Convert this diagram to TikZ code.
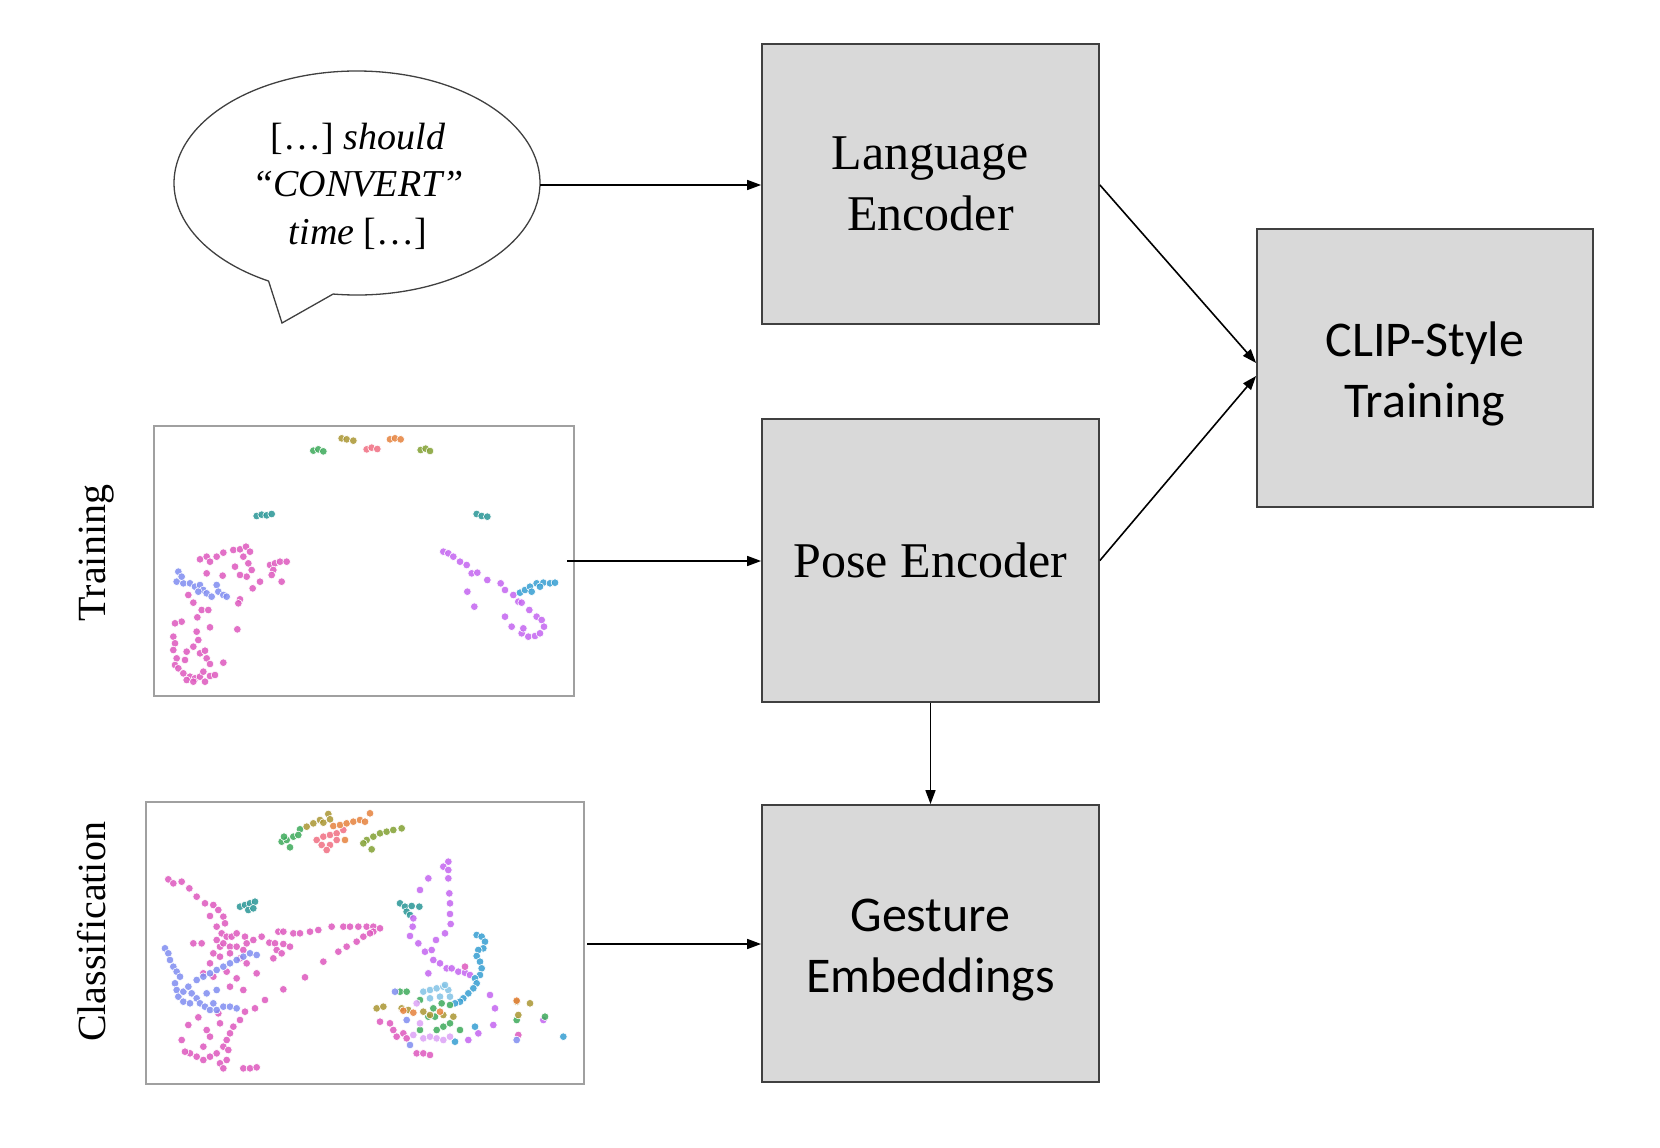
\documentclass[tikz,border=0pt]{standalone}
\usepackage{fontspec}
\setmainfont{Liberation Serif}
\newfontfamily\calibrifont{Carlito}
\usetikzlibrary{arrows.meta}
\definecolor{boxgray}{RGB}{217,217,217}
\definecolor{boxline}{RGB}{64,64,64}
\definecolor{framegray}{RGB}{160,160,160}
\definecolor{cpink}{RGB}{222,88,190}
\definecolor{cviolet}{RGB}{196,100,240}
\definecolor{clav}{RGB}{128,140,240}
\definecolor{csky}{RGB}{54,158,210}
\definecolor{cltsky}{RGB}{130,195,230}
\definecolor{cteal}{RGB}{40,150,150}
\definecolor{cgreen}{RGB}{60,170,90}
\definecolor{colive}{RGB}{170,150,50}
\definecolor{cred}{RGB}{240,110,130}
\definecolor{corange}{RGB}{230,130,60}
\definecolor{colgreen}{RGB}{130,160,50}
\newcommand\ptset[2]{\foreach \px/\py in {#2} {\filldraw[fill=#1, draw=white, line width=0.6, fill opacity=0.85] (\px,\py) circle[radius=11.5];}}
\begin{document}
\begin{tikzpicture}[x=1pt,y=-1pt,
  block/.style={draw=boxline, fill=boxgray, line width=1.8, minimum width=337, minimum height=280, align=center, inner sep=0},
  serifbig/.style={font=\fontsize{50}{61}\selectfont},
  calbig/.style={font=\calibrifont\fontsize{50}{61}\selectfont},
  plotframe/.style={draw=framegray, line width=2, inner sep=0},
  conn/.style={draw=black, line width=1.6, -{Triangle[length=14pt, width=10pt]}},
  bubble/.style={draw=black!75, line width=1.3, fill=white}]
\fill[white] (0,0) rectangle (1660,1148);
\path[use as bounding box] (0,0) rectangle (1660,1148);

% boxes
\node[block, serifbig] (lang) at (930.5,184) {Language\\Encoder};
\node[block, serifbig, minimum height=283] (pose) at (930.5,560.5) {Pose Encoder};
\node[block, calbig, minimum height=277] (gest) at (930.5,943.5) {\rule{0pt}{46pt}Gesture\\Embeddings};
\node[block, calbig, minimum width=336, minimum height=278] (clip) at (1425,368) {\rule{0pt}{46pt}CLIP-Style\\Training};

% speech bubble
\draw[bubble] (357,183) ++(97.5:183 and 112) arc[start angle=97.5, end angle=-241.1, x radius=183, y radius=112] -- (282,323) -- cycle;
\node[font=\fontsize{38}{47.5}\selectfont, align=center] (bubtext) at (358,186) {[…] \textit{should}\\\textit{“CONVERT”}\\\textit{time} […]};
\coordinate (bubR) at (540,185);

% plot frames
\node[plotframe, minimum width=420, minimum height=270] (trainplot) at (364,561) {};
\node[plotframe, minimum width=438, minimum height=282] (classplot) at (365,943) {};
\coordinate (trainR) at (567,561);
\coordinate (classR) at (587,944);

% side labels
\node[rotate=90, font=\fontsize{40}{48}\selectfont] (trainlabel) at (97,553) {Training};
\node[rotate=90, font=\fontsize{40}{48}\selectfont] (classlabel) at (92,932) {Classification};

% training scatter
\begin{scope}[shift={(140,410)}, scale=0.33333]
\ptset{cgreen}{520/122,535/118,550/124}
\ptset{colive}{605/85,620/88,640/92}
\ptset{cred}{680/118,695/113,712/117}
\ptset{corange}{750/88,765/85,782/88}
\ptset{colgreen}{842/120,857/116,870/123}
\ptset{cteal}{350/318,365/314,380/316,395/312}
\ptset{cteal}{1010/312,1025/318,1042/320}
\ptset{cpink}{180/448,200/440,210/455,230/440,250/428,280/420,300/418,318/410,330/425,310/440,325/460,335/480,320/500,300/495,285/470,390/465,405/460,420/455,440/455,400/480,395/495,425/515,360/515,338/535,248/497,200/490}
\ptset{clav}{115/485,110/515,130/520,150/520,165/530,180/525,190/540,200/550,215/560,230/525,235/545,250/555,260/560,125/500,175/545}
\ptset{cpink}{145/555,160/578,185/600,205/600,172/622,125/635,105/640,210/652,292/658,300/568,295/580}
\ptset{cpink}{100/680,105/700,100/720,110/745,105/765,115/775,170/665,175/690,160/710,140/725,135/750,180/730,195/722,200/745,210/762,250/758,130/790,150/800,165/805,180/800,195/815,210/798,225/795,190/785,140/810,160/815}
\ptset{cviolet}{910/425,925/430,940/440,960/455,980/465,995/490,1012/488,1042/510,1082/520,1095/540,982/545,1003/590,1120/555,1135/575,1145/578,1168/600,1190/620,1205/630,1212/650,1095/620,1115/650,1145/670,1165/680,1185/678,1200/670,1150/655}
\ptset{csky}{1140/548,1155/540,1170/530,1190/520,1210/518,1230/520,1245/518,1175/545,1200/530}
\end{scope}

% classification scatter
\begin{scope}[shift={(130,790)}, scale=0.33333]
\ptset{cgreen}{455/155,470/150,480/172,462/140,490/140,510/118,505/135}
\ptset{colive}{530/110,550/100,570/90,595/72,580/98,600/88}
\ptset{cred}{560/150,580/140,600/135,620/130,640/120,600/165,575/165,590/180,620/150}
\ptset{corange}{610/108,630/105,650/100,670/95,690/90,720/70,705/95,645/150}
\ptset{colgreen}{710/150,730/140,750/130,770/125,790/120,815/115,725/178,700/160}
\ptset{cteal}{330/350,345/345,360/340,375/335,355/360,370/355}
\ptset{cteal}{810/340,825/350,845/348,868/350,830/365,840/375}
\ptset{cpink}{115/268,130/280,155/275,178/295,200/320,225/340,250/345,265/360,240/378,280/380,285/400,260/410,275/430,290/440,305/440,320/430,345/440,370/450,395/440,418/458,445/425,460/425,490/430,510/430,540/425,565/420,605/410,640/410,660/410,685/410,710/410,730/410,750/415,730/425}
\ptset{cpink}{435/460,460/462,440/480,430/505,455/490,480/470,580/515,625/485,650/470,680/455,700/440,720/430}
\ptset{cpink}{260/450,270/470,280/460,300/470,320/470,340/480,350/460,250/490,270/500,300/490,330/505,350/520,240/520,220/550,250/560,290/545,320/565,340/600,300/590,380/550,405/630,460/598,525/562,375/655,345/665,330/690,310/710,300/730,290/750,280/770,295/780,260/790,240/800,220/810,200/800,180/790,165/785,155/750,175/705,205/682,230/720,240/740,220/770,270/820,280/835,290/810,340/835,360/835,380/832,190/460,215/460,270/700,265/670}
\ptset{clav}{105/475,115/490,120/510,130/530,140/545,150/560,135/580,140/600,145/620,160/605,175/590,185/610,200/625,210/640,225/650,240/660,260/660,280/650,300/650,320/655,200/570,220/560,240/550,260/540,280/530,300/520,320/510,340/500,360/490,380/495,160/635,180/640,250/640,230/610,260/600}
\ptset{cviolet}{955/215,940/230,955/240,895/265,955/265,870/300,958/310,960/340,960/372,962/402,945/430,918/450,850/385,848/410,840/438,865/460,885/485,905/480,910/510,930/520,950/535,965/535,985/545,1005/548,1020/555,895/550,1080/615,1095/655,1090/705,1045/730,1015/750,1240/690}
\ptset{csky}{1040/435,1055/440,1065/455,1060/475,1045/480,1040/498,1050/515,1055/535,1050/555,1035/565,1040/580,1030/595,1015/610,1000/625,990/635,975/640,1300/740,1035/710,975/755}
\ptset{cltsky}{880/605,900/600,920/595,940/590,955/600,900/625,930/620,960/620,945/585}
\ptset{cgreen}{810/605,830/605,870/630,910/655,935/640,960/645,895/680,915/680,960/700,990/720,870/720,920/720,940/710,1245/680,1160/690}
\ptset{colive}{740/655,760/650,815/655,835/660,880/665,900/675,940/675,970/680,1200/640,1160/635,1165/675}
\ptset{corange}{820/662,850/668,930/665,1160/632}
\ptset{cpink}{750/695,780/700,790/720,800/740,820/730,830/745,860/790,880/790,900/795,1165/735,1005/530}
\ptset{clav}{795/605,840/765,1160/750,830/690}
\ptset{cviolet!60}{860/640,870/700,880/745,900/740,920/745,940/750,960/740,850/735}
\end{scope}

% connectors
\draw[conn] (bubR) -- (lang.west |- bubR);
\draw[conn] (trainR) -- (pose.west |- trainR);
\draw[conn] (classR) -- (gest.west |- classR);
\draw[conn] (pose.south) -- (gest.north);
\draw[conn] ([yshift=-1pt]lang.east) -- ([yshift=5pt]clip.west);
\draw[conn] (pose.east) -- ([yshift=-8pt]clip.west);
\end{tikzpicture}
\end{document}
